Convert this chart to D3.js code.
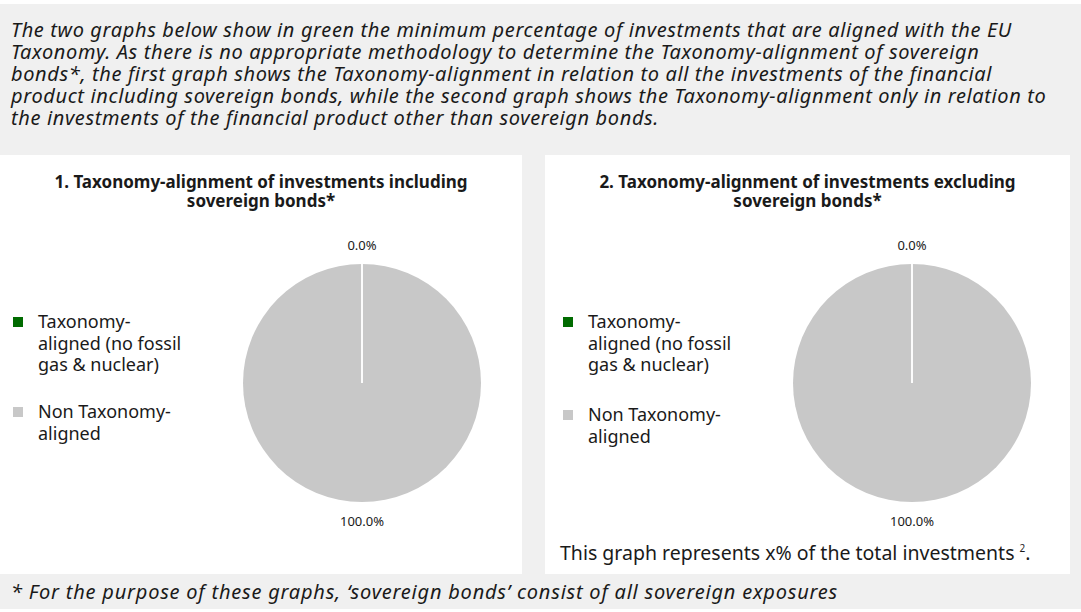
<!DOCTYPE html>
<html>
<head>
<meta charset="utf-8">
<script src="https://cdn.jsdelivr.net/npm/d3@7"></script>
<style>
  body { margin: 0; background: #fff; }
  svg text { font-family: "Noto Sans", "Open Sans", sans-serif; fill: #1a1a1a; }
  svg text.it { font-style: italic; }
</style>
</head>
<body>
<svg id="chart"></svg>
<script>
// categories and values for the two pies
const categories = ['Taxonomy-aligned (no fossil gas & nuclear)', 'Non Taxonomy-aligned'];
const legendLines = [['Taxonomy-', 'aligned (no fossil', 'gas & nuclear)'], ['Non Taxonomy-', 'aligned']];
const valuesIncl = [0, 100];
const valuesExcl = [0, 100];
const colors = ['#006b00', '#c8c8c8'];

const introLines = [
    'The two graphs below show in green the minimum percentage of investments that are aligned with the EU',
    'Taxonomy. As there is no appropriate methodology to determine the Taxonomy-alignment of sovereign',
    'bonds*, the first graph shows the Taxonomy-alignment in relation to all the investments of the financial',
    'product including sovereign bonds, while the second graph shows the Taxonomy-alignment only in relation to',
    'the investments of the financial product other than sovereign bonds.'
];
const footnote = '* For the purpose of these graphs, \u2018sovereign bonds\u2019 consist of all sovereign exposures';

const width = 1081, height = 612;
const svg = d3.select('#chart').attr('width', width).attr('height', height);

// grey background block
svg.append('rect').attr('x', 0).attr('y', 4).attr('width', width).attr('height', 605).attr('fill', '#f0f0f0');

// spread letters a little so a line ends where the source's does
function fitSpacing(sel, text, target) {
    const len = sel.node().getComputedTextLength();
    sel.attr('letter-spacing', Math.max(0, (target - len) / text.length));
}

// intro paragraph
const intro = svg.append('g').selectAll('text')
    .data(introLines)
    .join('text')
    .attr('class', 'it')
    .attr('x', 11)
    .attr('y', (d, i) => 37 + i * 22)
    .attr('font-size', '20px')
    .text(d => d);
fitSpacing(intro, introLines[0], 1001);

// footnote
const foot = svg.append('text')
    .attr('class', 'it')
    .attr('x', 11).attr('y', 599)
    .attr('font-size', '20px')
    .text(footnote);
fitSpacing(foot, footnote, 827);

const color = d3.scaleOrdinal().domain(categories).range(colors);
const pie = d3.pie().sort(null).value(d => d.value);
const radius = 119;
const arc = d3.arc().innerRadius(0).outerRadius(radius);
const labelArc = d3.arc().innerRadius(radius + 19).outerRadius(radius + 19);

const panels = [
    {x: 0, w: 522, title: ['1. Taxonomy-alignment of investments including', 'sovereign bonds*'], values: valuesIncl, cx: 362, legendX: 13, legendY: [322, 412]},
    {x: 545, w: 525, title: ['2. Taxonomy-alignment of investments excluding', 'sovereign bonds*'], values: valuesExcl, cx: 912, legendX: 563, legendY: [322, 415]}
];

panels.forEach((p, pi) => {
    const g = svg.append('g');
    g.append('rect').attr('x', p.x).attr('y', 155).attr('width', p.w).attr('height', 419).attr('fill', '#fff');

    g.selectAll('.title')
        .data(p.title)
        .join('text')
        .attr('class', 'title')
        .attr('x', p.x + p.w / 2)
        .attr('y', (d, i) => 188 + i * 19)
        .attr('text-anchor', 'middle')
        .attr('font-size', '17px')
        .attr('font-weight', 'bold')
        .text(d => d);

    const data = categories.map((c, i) => ({name: c, value: p.values[i]}));
    const arcs = pie(data);
    const pg = g.append('g').attr('transform', `translate(${p.cx}, 383)`);

    pg.selectAll('path')
        .data(arcs)
        .join('path')
        .attr('d', arc)
        .attr('fill', d => color(d.data.name));

    // white slice separators
    pg.selectAll('line')
        .data(arcs)
        .join('line')
        .attr('x2', d => radius * Math.sin(d.startAngle))
        .attr('y2', d => -radius * Math.cos(d.startAngle))
        .attr('stroke', '#fff')
        .attr('stroke-width', 1.5);

    pg.selectAll('.lbl')
        .data(arcs)
        .join('text')
        .attr('class', 'lbl')
        .attr('transform', d => `translate(${labelArc.centroid(d)})`)
        .attr('text-anchor', 'middle')
        .attr('dy', '0.35em')
        .attr('font-size', '13px')
        .text(d => d3.format('.1%')(d.data.value / 100));

    // legend
    const lg = g.selectAll('.legend')
        .data(categories)
        .join('g')
        .attr('class', 'legend')
        .attr('transform', (d, i) => `translate(${p.legendX}, ${p.legendY[i]})`);

    lg.append('rect')
        .attr('x', 0).attr('y', -5)
        .attr('width', 10).attr('height', 10)
        .attr('fill', d => color(d));

    lg.each(function(d, i) {
        d3.select(this).selectAll('text')
            .data(legendLines[i])
            .join('text')
            .attr('x', 25)
            .attr('y', (t, j) => 6 + j * 21.5)
            .attr('font-size', '18px')
            .text(t => t);
    });

    if (pi === 1) {
        const note = g.append('text')
            .attr('x', 560).attr('y', 560)
            .attr('font-size', '19.5px')
            .text('This graph represents x% of the total investments ');
        note.append('tspan').attr('font-size', '10px').attr('dy', -8).text('2');
        note.append('tspan').attr('dy', 8).text('.');
    }
});
</script>
</body>
</html>
